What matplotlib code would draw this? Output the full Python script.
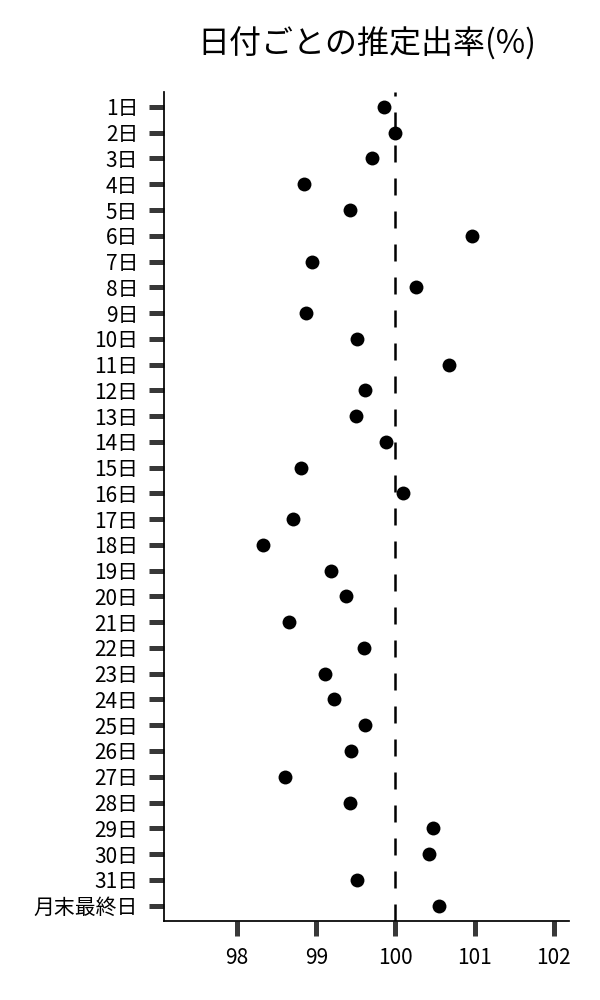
import numpy as np
import matplotlib
matplotlib.use("Agg")
import matplotlib.pyplot as plt

plt.rcParams['font.family'] = ['Noto Sans CJK JP', 'DejaVu Sans']

# 日付ラベル
days = [f"{d}日" for d in range(1, 32)] + ["月末最終日"]

# 推定出率(%)
rates = [99.85, 99.99, 99.70, 98.85, 99.43, 100.97, 98.94, 100.26, 98.87, 99.52,
         100.68, 99.61, 99.50, 99.88, 98.81, 100.09, 98.70, 98.32, 99.18, 99.38,
         98.65, 99.60, 99.11, 99.22, 99.62, 99.44, 98.61, 99.43, 100.48, 100.42,
         99.52, 100.55]

xticks = [98, 99, 100, 101, 102]

fig = plt.figure(figsize=(6, 10), dpi=100)
ax = fig.add_axes([0.274, 0.079, 0.674, 0.8295])

ypos = np.arange(len(days))
ax.axvline(100, color='black', lw=1.8, ls=(0, (6.8, 6.4)), zorder=1)
ax.scatter(rates, ypos, s=100, color='black', zorder=3, linewidths=0)

ax.set_yticks(ypos)
ax.set_yticklabels(days)
ax.set_xticks(xticks)
ax.set_xticklabels([str(t) for t in xticks])
ax.set_xlim(97.08, 102.19)
ax.set_ylim(len(days) - 1 + 0.6, -0.6)

for s in ['top', 'right']:
    ax.spines[s].set_visible(False)
for s in ['left', 'bottom']:
    ax.spines[s].set_linewidth(1.25)
    ax.spines[s].set_color('black')

ax.tick_params(axis='both', direction='out', length=10.8, width=3.6, color='#383838',
               pad=8, labelsize=15, labelcolor='black')

ax.set_title("日付ごとの推定出率(%)", fontsize=23, pad=27)

fig.savefig("out.png", dpi=100)
